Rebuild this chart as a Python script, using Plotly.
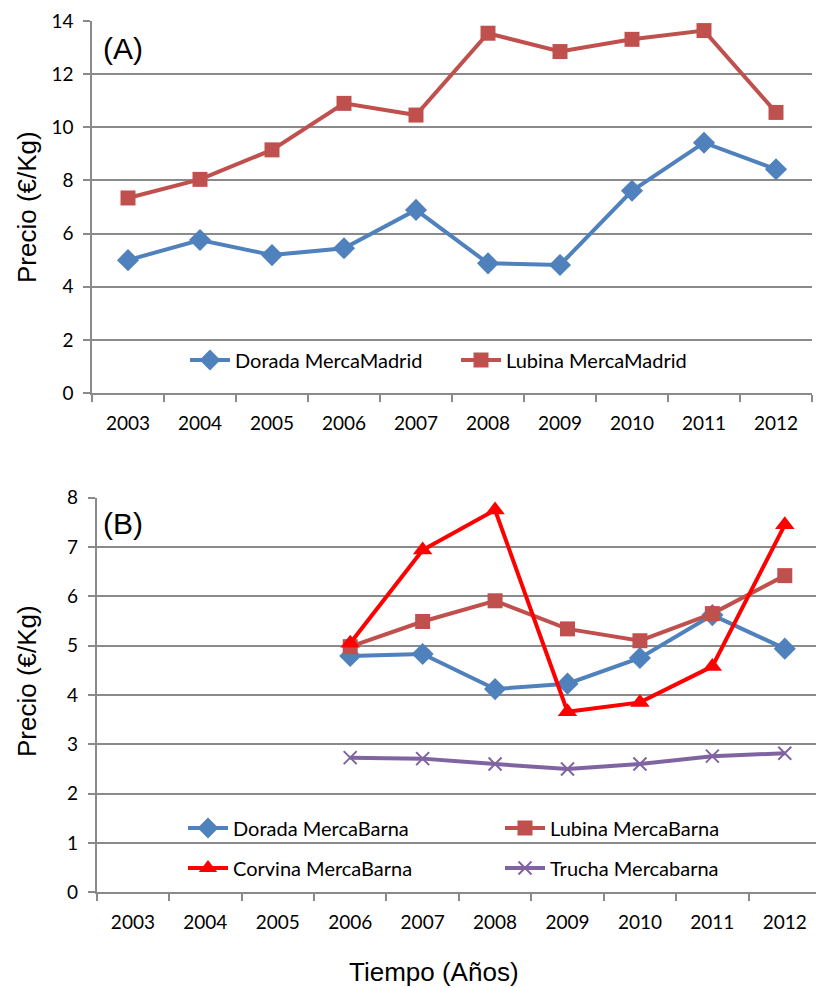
import plotly.graph_objects as go

years = ["2003", "2004", "2005", "2006", "2007", "2008", "2009", "2010", "2011", "2012"]
years_b = ["2006", "2007", "2008", "2009", "2010", "2011", "2012"]

dorada_madrid = [5.00, 5.76, 5.19, 5.45, 6.89, 4.88, 4.82, 7.61, 9.42, 8.42]
lubina_madrid = [7.34, 8.04, 9.15, 10.90, 10.46, 13.54, 12.85, 13.31, 13.64, 10.56]

dorada_barna = [4.79, 4.83, 4.12, 4.23, 4.75, 5.62, 4.94]
lubina_barna = [4.98, 5.49, 5.91, 5.34, 5.10, 5.65, 6.42]
corvina_barna = [5.05, 6.94, 7.75, 3.66, 3.85, 4.58, 7.45]
trucha_barna = [2.73, 2.71, 2.60, 2.50, 2.60, 2.76, 2.82]

yticks_a = [0, 2, 4, 6, 8, 10, 12, 14]
yticks_b = [0, 1, 2, 3, 4, 5, 6, 7, 8]

BLUE = "#4F81BD"
RED = "#C0504D"
BRIGHT = "#FF0000"
PURPLE = "#8064A2"
GRID = "#8a8a8a"
W, H = 816, 980
OFF = 8  # page body margin


def px(x):
    return (x - OFF) / W


def py(y):
    return 1 - (y - OFF) / H


fig = go.Figure()


def line(x, y, name, color, symbol, size, xa, ya, legend, mline=0):
    fig.add_trace(go.Scatter(
        x=x, y=y, name=name, mode="lines+markers",
        line=dict(color=color, width=4),
        marker=dict(symbol=symbol, size=size, color=color,
                    line=dict(color=color, width=mline)),
        xaxis=xa, yaxis=ya, legend=legend,
    ))


line(years, dorada_madrid, "Dorada MercaMadrid", BLUE, "diamond", 17, "x", "y", "legend")
line(years, lubina_madrid, "Lubina MercaMadrid", RED, "square", 15, "x", "y", "legend")
line(years_b, dorada_barna, "Dorada MercaBarna", BLUE, "diamond", 17, "x2", "y2", "legend2")
line(years_b, lubina_barna, "Lubina MercaBarna", RED, "square", 15, "x2", "y2", "legend2")
line(years_b, corvina_barna, "Corvina MercaBarna", BRIGHT, "triangle-up", 17, "x2", "y2", "legend3")
line(years_b, trucha_barna, "Trucha Mercabarna", PURPLE, "x-thin", 13, "x2", "y2", "legend3", 2)

tickfont = dict(family="Lato", size=19, color="#000000")
legfont = dict(family="Lato", size=20, color="#000000")
bigfont = dict(family="Liberation Sans", size=26, color="#000000")


def xaxis(domain, anchor):
    return dict(domain=domain, anchor=anchor, type="category", categoryorder="array",
                categoryarray=years, range=[-0.5, 9.5], tickson="boundaries",
                ticks="outside", ticklen=7, tickcolor=GRID, tickwidth=1.5,
                showgrid=False, showline=True, linecolor=GRID, linewidth=1.5,
                tickfont=tickfont, automargin=False, zeroline=False,
                ticklabelstandoff=12)


def yaxis(domain, anchor, rng, vals):
    return dict(domain=domain, anchor=anchor, range=rng, tickvals=vals,
                ticks="outside", ticklen=7, tickcolor=GRID, tickwidth=1.5,
                showgrid=True, gridcolor=GRID, gridwidth=1.5,
                showline=True, linecolor=GRID, linewidth=1.5, zeroline=False,
                tickfont=tickfont, automargin=False, ticklabelstandoff=6)


def legend(x, y, ew):
    return dict(orientation="h", x=px(x), y=py(y), xanchor="left", yanchor="middle",
                entrywidth=ew, entrywidthmode="pixels", bgcolor="rgba(0,0,0,0)",
                font=legfont, itemwidth=40)


fig.update_layout(
    width=W, height=H,
    margin=dict(l=0, r=0, t=0, b=0, autoexpand=False),
    plot_bgcolor="white", paper_bgcolor="white",
    xaxis=xaxis([px(92), px(812)], "y"),
    yaxis=yaxis([py(393), py(21)], "x", [0, 14], yticks_a),
    xaxis2=xaxis([px(96.7), px(821)], "y2"),
    yaxis2=yaxis([py(892.3), py(497.7)], "x2", [0, 8], yticks_b),
    showlegend=True,
    legend=legend(185, 360, 216),
    legend2=legend(183, 828, 262),
    legend3=legend(183, 868, 262),
    annotations=[
        dict(text="(A)", x=px(123), y=py(49), xref="paper", yref="paper",
             xanchor="center", yanchor="middle", showarrow=False,
             font=dict(family="Liberation Sans", size=30, color="#000")),
        dict(text="(B)", x=px(123), y=py(523), xref="paper", yref="paper",
             xanchor="center", yanchor="middle", showarrow=False,
             font=dict(family="Liberation Sans", size=30, color="#000")),
        dict(text="Precio (€/Kg)", x=px(27), y=py(207), xref="paper", yref="paper",
             xanchor="center", yanchor="middle", textangle=-90, showarrow=False,
             font=bigfont),
        dict(text="Precio (€/Kg)", x=px(27), y=py(681), xref="paper", yref="paper",
             xanchor="center", yanchor="middle", textangle=-90, showarrow=False,
             font=bigfont),
        dict(text="Tiempo (Años)", x=px(434), y=py(972), xref="paper", yref="paper",
             xanchor="center", yanchor="middle", showarrow=False, font=bigfont),
    ],
)

fig.write_html("out.html")
